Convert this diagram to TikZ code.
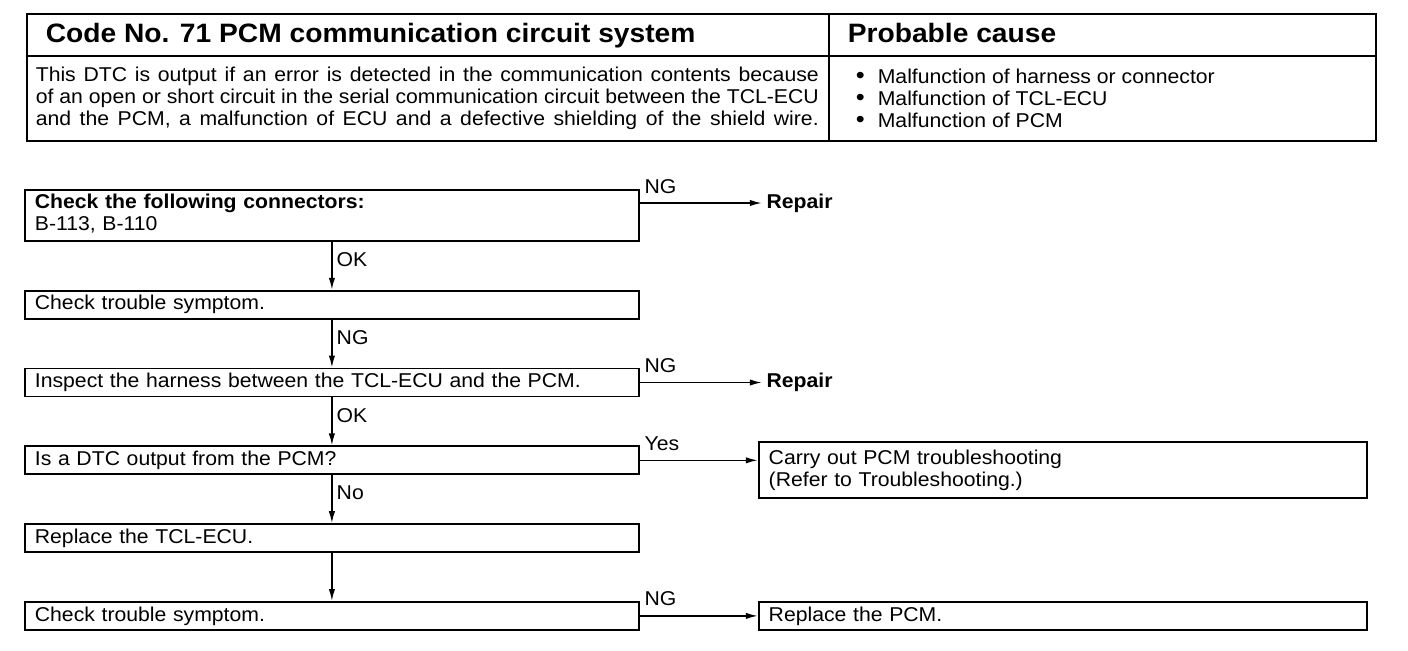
\documentclass[tikz,border=0pt]{standalone}
\usepackage{fontspec}
\setmainfont{Liberation Sans}[FakeStretch=1.06]
\usetikzlibrary{positioning,arrows.meta}

\newcommand{\flowfont}{\fontsize{10}{11}\selectfont}
\newcommand{\headfont}{\fontsize{13.3}{15}\selectfont\bfseries}
\newcommand{\jline}[1]{\makebox[391.5pt][s]{#1}}
\newcommand{\blt}{\makebox[12pt][l]{\hspace{1pt}{\large\textbullet}}}

\begin{document}
\begin{tikzpicture}[x=0.5pt,y=-0.5pt,>={Latex[length=6pt,width=3.2pt]},line width=0.8pt,node distance=24pt,
    chkbox/.style={draw,line width=0.9pt,text width=297pt,inner xsep=5pt,inner ysep=2pt,minimum height=14pt,align=left,font=\flowfont},
    resbox/.style={draw,line width=0.9pt,text width=294pt,inner xsep=5pt,inner ysep=2pt,minimum height=14pt,align=left,font=\flowfont},
    lbl/.style={font=\flowfont,inner sep=2pt}]
    \useasboundingbox (0,0) rectangle (1408,650);

    % header table
    \draw[line width=1pt] (27,14) rectangle (1376,141);
    \draw[line width=1pt] (27,56) -- (1376,56) (829,14) -- (829,141);
    \node[anchor=base west,inner sep=0pt,font=\headfont] (title) at (45,42) {Code No. 71 PCM communication circuit system};
    \node[anchor=base west,inner sep=0pt,font=\headfont] (cause) at (847,42) {Probable cause};
    \node[anchor=west,inner sep=0pt,align=left,font=\flowfont] (desc) at (35,98)
        {\jline{This DTC is output if an error is detected in the communication contents because}\\
         \jline{of an open or short circuit in the serial communication circuit between the TCL-ECU}\\
         \jline{and the PCM, a malfunction of ECU and a defective shielding of the shield wire.}};
    \node[anchor=west,inner sep=0pt,align=left,font=\flowfont] (causes) at (853,98)
        {\blt Malfunction of harness or connector\\
         \blt Malfunction of TCL-ECU\\
         \blt Malfunction of PCM};

    % flow
    \node[chkbox,minimum height=25.5pt,inner ysep=1pt,anchor=north west] (conn) at (24,189)
        {\textbf{Check the following connectors:}\\B-113, B-110\vspace{1.5pt}};
    \node[chkbox,below=of conn] (sym1) {Check trouble symptom.};
    \node[chkbox,below=of sym1] (harn) {Inspect the harness between the TCL-ECU and the PCM.};
    \node[chkbox,below=of harn] (dtc) {Is a DTC output from the PCM?};
    \node[chkbox,below=of dtc] (ecu) {Replace the TCL-ECU.};
    \node[chkbox,below=of ecu] (sym2) {Check trouble symptom.};

    \coordinate (conn-ng) at ([yshift=-7pt]conn.north east);
    \node[lbl,font=\flowfont\bfseries,right=61pt of conn-ng] (rep1) {Repair};
    \node[lbl,font=\flowfont\bfseries,right=61pt of harn.east] (rep2) {Repair};
    \node[resbox,minimum height=28pt,anchor=north west] (pcmts) at ([xshift=59pt,yshift=2pt]dtc.north east)
        {Carry out PCM troubleshooting\\(Refer to Troubleshooting.)};
    \node[resbox,right=59pt of sym2] (pcm) {Replace the PCM.};

    \draw[->] (conn) -- node[lbl,right,pos=0.37] {OK} (sym1);
    \draw[->] (sym1) -- node[lbl,right,pos=0.37] {NG} (harn);
    \draw[->] (harn) -- node[lbl,right,pos=0.37] {OK} (dtc);
    \draw[->] (dtc) -- node[lbl,right,pos=0.37] {No} (ecu);
    \draw[->] (ecu) -- (sym2);

    \draw[->] (conn-ng) -- node[lbl,pos=0,above right,yshift=2.5pt] {NG} (rep1);
    \draw[->] (harn) -- node[lbl,pos=0,above right,yshift=2.5pt] {NG} (rep2);
    \draw[->] (dtc.east) -- node[lbl,pos=0,above right,yshift=2.5pt] {Yes} (dtc.east -| pcmts.west);
    \draw[->] (sym2) -- node[lbl,pos=0,above right,yshift=2.5pt] {NG} (pcm);
\end{tikzpicture}
\end{document}
